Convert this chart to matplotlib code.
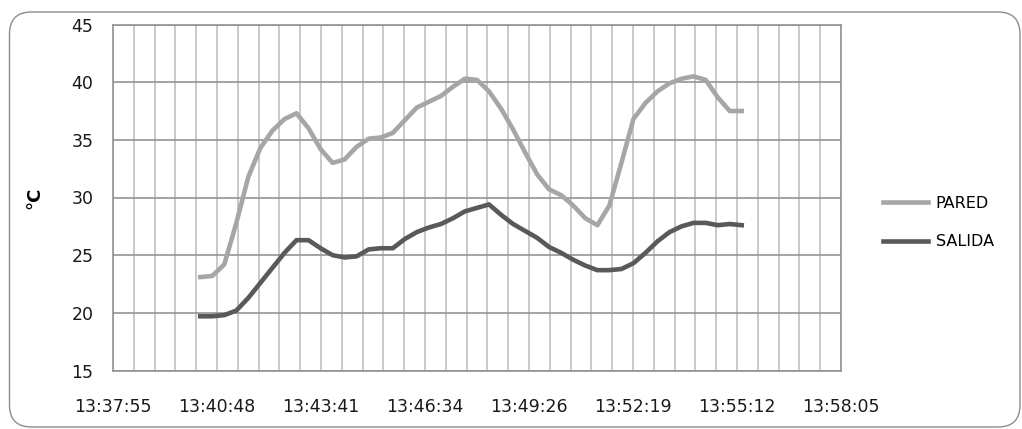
import numpy as np
import pandas as pd
import matplotlib
matplotlib.use("Agg")
import matplotlib.pyplot as plt
from matplotlib.patches import FancyBboxPatch
from matplotlib.transforms import IdentityTransform

# lecturas cada 20 s
horas = pd.date_range("13:40:20", "13:55:20", freq="20s").strftime("%H:%M:%S").tolist()

pared = [23.1, 23.2, 24.2, 27.8, 31.8, 34.3, 35.8, 36.8, 37.3, 36.0,
         34.2, 33.0, 33.3, 34.4, 35.1, 35.2, 35.6, 36.7, 37.8, 38.3,
         38.8, 39.6, 40.3, 40.2, 39.2, 37.7, 35.9, 33.9, 32.0, 30.7,
         30.2, 29.3, 28.2, 27.6, 29.3, 33.0, 36.8, 38.2, 39.2, 39.9,
         40.3, 40.5, 40.2, 38.7, 37.5, 37.5]

salida = [19.7, 19.7, 19.8, 20.2, 21.3, 22.6, 23.9, 25.2, 26.3, 26.3,
          25.6, 25.0, 24.8, 24.9, 25.5, 25.6, 25.6, 26.4, 27.0, 27.4,
          27.7, 28.2, 28.8, 29.1, 29.4, 28.5, 27.7, 27.1, 26.5, 25.7,
          25.2, 24.6, 24.1, 23.7, 23.7, 23.8, 24.3, 25.2, 26.2, 27.0,
          27.5, 27.8, 27.8, 27.6, 27.7, 27.6]

etiquetas_x = ["13:37:55", "13:40:48", "13:43:41", "13:46:34",
               "13:49:26", "13:52:19", "13:55:12", "13:58:05"]

t = pd.to_timedelta(horas).total_seconds().to_numpy()
x0 = pd.to_timedelta(etiquetas_x[0]).total_seconds()
x1 = pd.to_timedelta(etiquetas_x[-1]).total_seconds()

fig = plt.figure(figsize=(10.22, 4.29), dpi=100)
ax = fig.add_axes([113 / 1022, 1 - 370.5 / 429, 728 / 1022, 346 / 429])

ax.plot(t, pared, color="#a6a6a6", lw=3.3, label="PARED", solid_joinstyle="round")
ax.plot(t, salida, color="#595959", lw=3.3, label="SALIDA", solid_joinstyle="round")

ax.set_xlim(x0, x1)
ax.set_ylim(15, 45)
ax.set_xticks(np.linspace(x0, x1, len(etiquetas_x)))
ax.set_xticklabels(etiquetas_x)
ax.set_xticks(np.linspace(x0, x1, 5 * (len(etiquetas_x) - 1) + 1), minor=True)
ax.set_yticks(range(15, 50, 5))

ax.grid(axis="x", which="both", color="#c0c0c0", lw=1.2)
ax.grid(axis="y", which="major", color="#939393", lw=1.2)
ax.set_axisbelow(True)
for s in ax.spines.values():
    s.set_color("#939393")
    s.set_linewidth(1.2)

ax.tick_params(which="both", length=0)
ax.tick_params(axis="y", labelsize=12.5, pad=14, colors="#1a1a1a")
ax.tick_params(axis="x", labelsize=12.5, pad=20, colors="#1a1a1a")

ax.set_ylabel("°C", fontsize=13, fontweight="bold")
ax.yaxis.set_label_coords(-0.095, 0.5)

ax.legend(loc="center left", bbox_to_anchor=(0.850, 0.481), bbox_transform=fig.transFigure,
          frameon=False, fontsize=11.5, handlelength=2.8, handletextpad=0.5,
          labelspacing=1.45)

marco = FancyBboxPatch((9.5, 2), 1010.5, 415, boxstyle="round,pad=0,rounding_size=22",
                       transform=IdentityTransform(), fill=False, edgecolor="#8c8c8c", lw=1)
fig.add_artist(marco)

fig.savefig("out.png", dpi=100)
